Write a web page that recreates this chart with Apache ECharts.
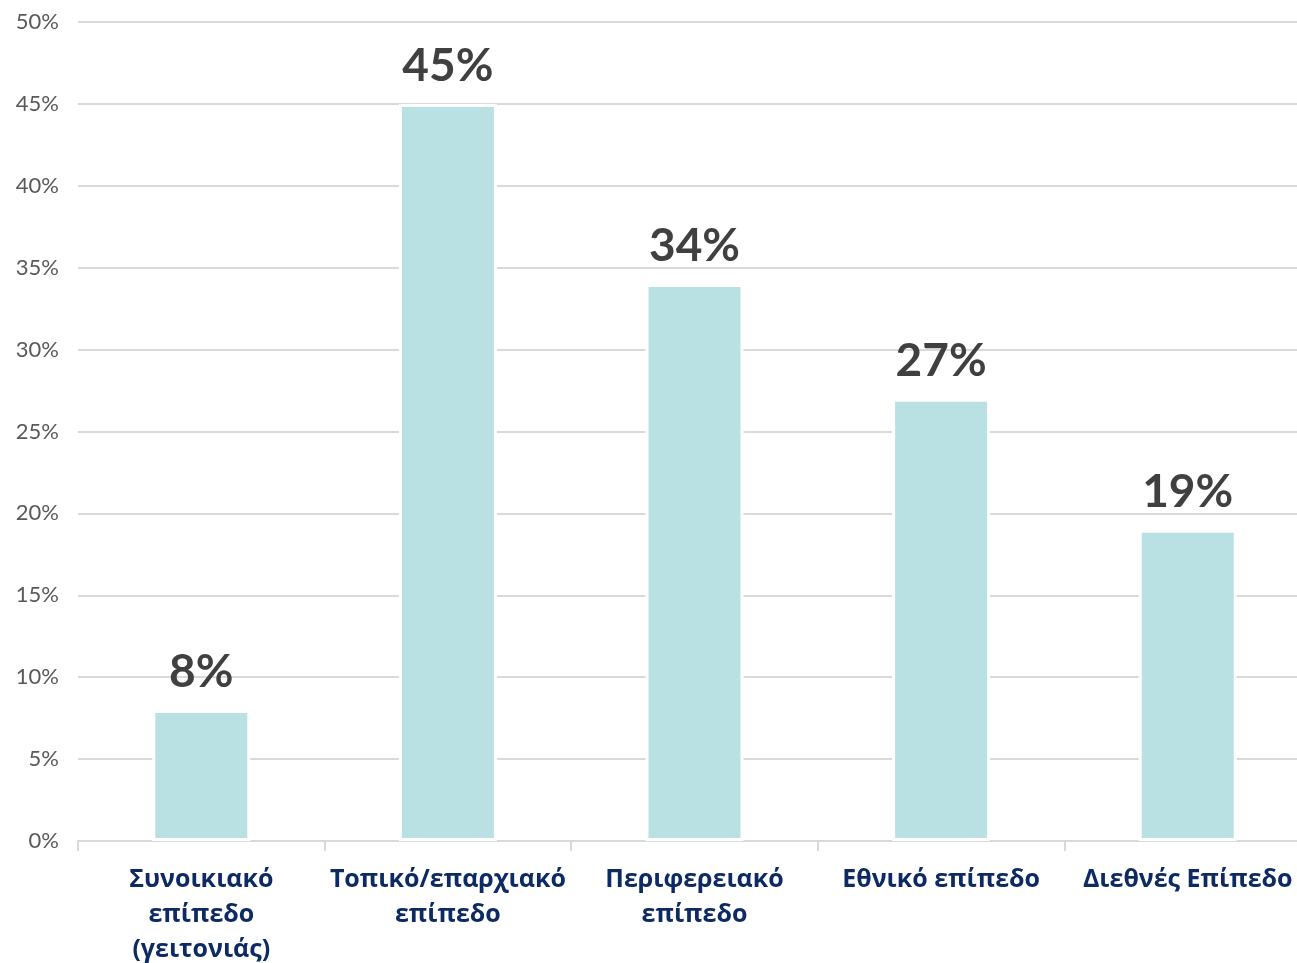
<!DOCTYPE html>
<html>
<head>
<meta charset="utf-8">
<script src="https://cdn.jsdelivr.net/npm/echarts@6/dist/echarts.min.js"></script>
<style>html,body{margin:0;padding:0;background:#fff;overflow:hidden}#c{width:1297px;height:963px}</style>
</head>
<body>
<div id="c"></div>
<script>
const categories = ['Συνοικιακό\nεπίπεδο\n(γειτονιάς)', 'Τοπικό/επαρχιακό\nεπίπεδο', 'Περιφερειακό\nεπίπεδο', 'Εθνικό επίπεδο', 'Διεθνές Επίπεδο'];
const values = [8, 45, 34, 27, 19];
const yTicks = [0, 5, 10, 15, 20, 25, 30, 35, 40, 45, 50];

const chart = echarts.init(document.getElementById('c'));
chart.setOption({
  animation: false,
  grid: { left: 78, right: -14, top: 22, bottom: 122, containLabel: false, outerBoundsMode: 'none' },
  xAxis: {
    type: 'category',
    data: categories,
    axisLine: { lineStyle: { color: '#d9d9d9', width: 2 } },
    axisTick: { show: true, alignWithLabel: false, length: 10, lineStyle: { color: '#d9d9d9', width: 2 } },
    axisLabel: {
      color: '#0d2a63', fontSize: 25, fontWeight: 'bold', fontFamily: 'Open Sans',
      lineHeight: 35, margin: 21, interval: 0
    }
  },
  yAxis: {
    type: 'value', min: yTicks[0], max: yTicks[yTicks.length - 1], interval: yTicks[1] - yTicks[0],
    axisLine: { show: false }, axisTick: { show: false },
    splitLine: { lineStyle: { color: '#d9d9d9', width: 2 } },
    axisLabel: { formatter: '{value}%', color: '#595959', fontSize: 22, fontFamily: 'Lato', margin: 19 }
  },
  series: [{
    type: 'bar',
    data: values,
    barWidth: 98,
    itemStyle: { color: '#b9e0e3', borderColor: '#ffffff', borderWidth: 3 },
    label: {
      show: true, position: 'top', distance: 15,
      formatter: '{c}%',
      color: '#404040', fontSize: 46, fontWeight: 'bold', fontFamily: 'Lato'
    }
  }]
});
</script>
</body>
</html>
